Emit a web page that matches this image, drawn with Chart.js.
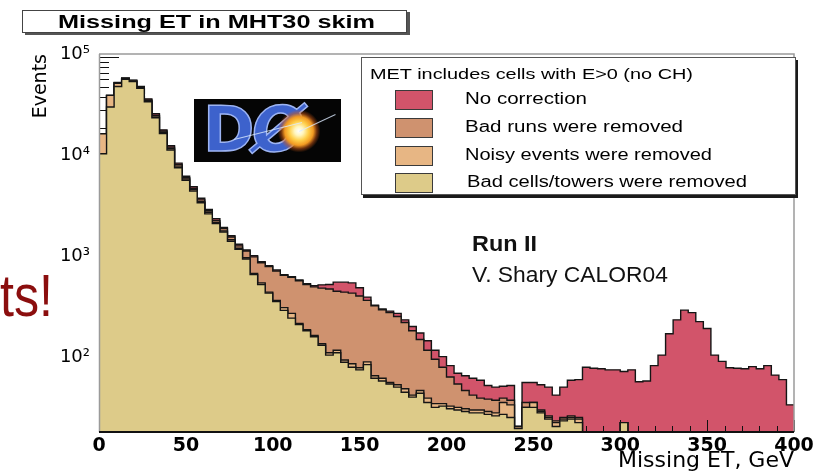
<!DOCTYPE html>
<html>
<head>
<meta charset="utf-8">
<script src="https://cdn.jsdelivr.net/npm/chart.js@4.4.1/dist/chart.umd.min.js"></script>
<style>
  html, body { margin:0; padding:0; background:#ffffff; }
  #stage { position:relative; width:821px; height:471px; overflow:hidden; background:#fff; }
  #chart { position:absolute; left:0; top:0; }
  .txt { position:absolute; white-space:nowrap; line-height:1; font-family:"Liberation Sans", Arial, sans-serif; transform-origin:0 0; }
  #titleBox { position:absolute; left:22px; top:10px; width:383px; height:21px; border:1px solid #444; box-shadow:3px 2px 0 #555; background:#fff; }
  #legendBox { position:absolute; left:361px; top:57px; width:433px; height:136px; border:1px solid #555; box-shadow:2px 3px 0 #1a1a1a; background:#fff; }
  .swatch { position:absolute; width:36px; height:18px; border:1px solid #3a3a3a; }
  #logo { position:absolute; left:194px; top:99px; width:147px; height:63px; background:#050505; overflow:hidden; }
  #logo .dd { position:absolute; left:9px; top:0px; font-family:"DejaVu Sans", sans-serif; font-weight:bold; font-size:62px; line-height:1; color:#3d62cc; -webkit-text-stroke:1.5px #9db4f2; }
  #logo .oo { position:absolute; left:58px; top:0px; font-family:"DejaVu Sans", sans-serif; font-weight:bold; font-style:italic; font-size:62px; line-height:1; color:#3d62cc; -webkit-text-stroke:1.5px #9db4f2; }
  #logo .flare { position:absolute; left:84px; top:11px; width:42px; height:42px; background:radial-gradient(circle at center, #ffffff 0%, #fff6c0 15%, #ffcf4a 32%, #f29a22 48%, rgba(210,90,20,0.5) 60%, rgba(0,0,0,0) 72%); }
  #logo .ray { position:absolute; height:1px; background:rgba(220,235,255,0.8); transform-origin:0 0; }
</style>
</head>
<body>
<div id="stage">
  <canvas id="chart" width="821" height="471"></canvas>
  <div id="titleBox"></div>
  <div id="legendBox"></div>
  <div id="logo"><span class="dd">D</span><span class="oo">Ø</span><div class="flare"></div>
    <div class="ray" style="left:40px;top:40px;width:70px;transform:rotate(-14deg)"></div>
    <div class="ray" style="left:105px;top:32px;width:40px;transform:rotate(-25deg)"></div>
  </div>
</div>
<script>
// ---------------- data ----------------
const X_MIN = 0, X_MAX = 400;           // histogram range, GeV
const Y_MIN = 19.4, Y_MAX = 107000;     // axis range, events
const xTickValues = [0, 50, 100, 150, 200, 250, 300, 350, 400];
const yTickValues = [100, 1000, 10000, 100000];
const yTickLabels = ['10²', '10³', '10⁴', '10⁵'];
const legendTitle = 'MET includes cells with E>0 (no CH)';
const seriesLabels = ['No correction', 'Bad runs were removed', 'Noisy events were removed', 'Bad cells/towers were removed'];
const seriesColors = ['#d2546a', '#cf926f', '#e7b684', '#ddcb89'];

// events per bin (92 equal bins over 0-400 GeV)
const noCorrection = [
  17400,41700,56000,62000,59000,51000,38500,27500,19000,13200,
  8900,6600,5200,4000,3100,2500,2050,1700,1400,1230,
  1080,940,860,780,700,670,620,570,545,555,
  560,590,590,580,520,420,350,320,305,290,
  250,215,185,155,125,108,88,74,70,66,
  63,56,54,55,56,22,60,60,57,54,
  45,54,63,64,85,83,82,80,80,77,
  80,61,62,88,112,182,250,312,295,240,
  205,112,97,84,83,82,86,82,88,71,
  64,36];
const badRunsRemoved = [
  17400,41700,55500,61500,58500,50500,37500,26500,18500,12800,
  8600,6400,5000,3850,3000,2400,2000,1650,1350,1200,
  1050,920,840,760,690,660,610,560,530,515,
  505,480,470,460,430,390,345,315,295,270,
  235,195,160,125,102,85,68,58,50,45,
  42,41,40,42,40,22,38,38,32,28,
  25,27,28,27,0,0,0,0,0,24,
  0,0,0,0,0,0,0,0,0,0,
  0,0,0,0,0,0,0,0,0,0,
  0,0];
const noisyRemoved = [
  17400,41700,55000,61000,58000,50000,37000,26000,18000,12400,
  8300,6200,4850,3700,2900,2300,1900,1550,1280,1030,
  720,580,470,390,330,290,230,200,175,145,
  118,125,100,92,84,96,70,66,60,57,
  52,45,50,42,37,37,35,34,33,32,
  32,31,30,38,36,22,34,38,31,27,
  24,26,27,26,0,0,0,0,0,24,
  0,0,0,0,0,0,0,0,0,0,
  0,0,0,0,0,0,0,0,0,0,
  0,0];
const badCellsRemoved = [
  11000,32000,51000,60000,57000,49000,36000,25000,17500,12000,
  8000,6000,4700,3600,2800,2250,1850,1500,1250,1000,
  700,560,460,380,310,260,225,195,170,140,
  112,118,95,85,80,90,66,62,58,54,
  48,43,47,38,34,35,33,32,31,30,
  30,29,28,29,27,21,34,34,30,26,
  22,25,26,24,0,0,0,0,0,24,
  0,0,0,0,0,0,0,0,0,0,
  0,0,0,0,0,0,0,0,0,0,
  0,0];

// ---------------- chart ----------------
function stepPoints(values) {
  const w = (X_MAX - X_MIN) / values.length;
  const floor = v => (v > 0 ? v : Y_MIN);  // empty bins sit on the axis floor
  const pts = values.map((v, i) => ({ x: X_MIN + i * w, y: floor(v) }));
  pts.push({ x: X_MAX, y: floor(values[values.length - 1]) });
  return pts;
}
const seriesData = [noCorrection, badRunsRemoved, noisyRemoved, badCellsRemoved];
// Chart.js paints the last dataset first, so reverse to put "no correction" at the back
const datasets = seriesData.map((vals, i) => ({
  label: seriesLabels[i],
  data: stepPoints(vals),
  stepped: 'before',
  fill: 'start',
  backgroundColor: seriesColors[i],
  borderColor: '#151515',
  borderWidth: 1.4,
  pointRadius: 0,
  tension: 0
})).reverse();

const axisDecor = {
  id: 'axisDecor',
  afterDatasetDraw(chart, args) {
    if (args.index !== chart.data.datasets.length - 1) return; // after the back-most histogram
    const { ctx, chartArea: a, scales: { x, y } } = chart;
    ctx.save();
    ctx.strokeStyle = '#111';
    ctx.lineWidth = 1;
    ctx.beginPath();
    for (let v = X_MIN; v <= X_MAX; v += 10) {
      const px = Math.round(x.getPixelForValue(v)) + 0.5;
      const len = v % 50 === 0 ? 12 : 6;
      ctx.moveTo(px, a.bottom); ctx.lineTo(px, a.bottom - len);
    }
    for (let d = 1; d <= 5; d++) {
      for (let m = 1; m <= 9; m++) {
        const v = m * Math.pow(10, d);
        if (v < Y_MIN || v > Y_MAX) continue;
        const py = Math.round(y.getPixelForValue(v)) + 0.5;
        const len = m === 1 ? 20 : 10;
        ctx.moveTo(a.left, py); ctx.lineTo(a.left + len, py);
      }
    }
    ctx.stroke();
    ctx.restore();
  },
  afterDatasetsDraw(chart) {
    const { ctx, chartArea: a } = chart;
    ctx.save();
    ctx.strokeStyle = '#9a9a9a';
    ctx.lineWidth = 1.5;
    ctx.beginPath();
    ctx.moveTo(a.left, a.top); ctx.lineTo(a.right, a.top); ctx.lineTo(a.right, a.bottom);
    ctx.moveTo(a.left + 0.5, a.top); ctx.lineTo(a.left + 0.5, a.bottom);
    ctx.stroke();
    ctx.strokeStyle = '#111';
    ctx.lineWidth = 2;
    ctx.beginPath();
    ctx.moveTo(a.left, a.bottom); ctx.lineTo(a.right, a.bottom);
    ctx.stroke();
    ctx.restore();
  }
};

new Chart(document.getElementById('chart').getContext('2d'), {
  type: 'line',
  data: { datasets },
  options: {
    responsive: false,
    animation: false,
    events: [],
    layout: { padding: { top: 54, right: 27, left: 0, bottom: 0 } },
    plugins: { legend: { display: false }, tooltip: { enabled: false }, title: { display: false } },
    elements: { point: { radius: 0 }, line: { tension: 0 } },
    scales: {
      x: {
        type: 'linear', min: X_MIN, max: X_MAX,
        afterFit: s => { s.height = 39; },
        afterBuildTicks: s => { s.ticks = xTickValues.map(v => ({ value: v })); },
        grid: { display: false, drawTicks: false },
        border: { display: false },
        ticks: { padding: 3, autoSkip: false, maxRotation: 0, color: '#000',
                 font: { family: 'DejaVu Sans', size: 19, weight: 'bold' },
                 callback: v => String(v) },
        title: { display: true, text: 'Missing ET, GeV', align: 'end', color: '#000',
                 font: { family: 'DejaVu Sans', size: 22 }, padding: { top: 0, bottom: -3 } }
      },
      y: {
        type: 'logarithmic', min: Y_MIN, max: Y_MAX,
        afterFit: s => { s.width = 99; },
        afterBuildTicks: s => { s.ticks = yTickValues.map(v => ({ value: v })); },
        grid: { display: false, drawTicks: false },
        border: { display: false },
        ticks: { padding: 9, autoSkip: false, color: '#000', labelOffset: -3,
                 font: { family: 'DejaVu Sans', size: 18 },
                 callback: (v, i) => yTickLabels[i] },
        title: { display: true, text: 'Events', align: 'end', color: '#000',
                 font: { family: 'DejaVu Sans', size: 19 }, padding: { top: 30, bottom: 0 } }
      }
    }
  },
  plugins: [axisDecor]
});

// ---------------- HTML texts ----------------
const stage = document.getElementById('stage');
function addText(str, o) {
  const s = document.createElement('div');
  s.className = 'txt';
  s.textContent = str;
  s.style.fontSize = o.size + 'px';
  s.style.fontWeight = o.weight || 'normal';
  s.style.color = o.color || '#000';
  if (o.family) s.style.fontFamily = o.family;
  stage.appendChild(s);
  s.style.top = (o.baseline - 0.8465 * o.size) + 'px';
  const nat = s.getBoundingClientRect().width;
  const k = o.width ? o.width / nat : 1;
  const w = o.width || nat;
  s.style.left = (o.center !== undefined ? o.center - w / 2 : o.left) + 'px';
  s.style.transform = 'scaleX(' + k + ')';
  return s;
}
addText('Missing ET in MHT30 skim', { center: 216, baseline: 28.5, size: 18, weight: 'bold', width: 317 });
addText(legendTitle, { left: 370, baseline: 79, size: 15.5, width: 323 });
const rowBase = [105, 133, 160.5, 188];
const rowTops = [90, 118, 146, 173];
const rowWidths = [122, 218, 247, 280];
seriesLabels.forEach((lab, i) => {
  const sw = document.createElement('div');
  sw.className = 'swatch';
  sw.style.left = '395px';
  sw.style.top = rowTops[i] + 'px';
  sw.style.background = seriesColors[i];
  stage.appendChild(sw);
  addText(lab, { left: i === 3 ? 467 : 465, baseline: rowBase[i], size: 16, width: rowWidths[i] });
});
addText('Run II', { left: 472, baseline: 251.5, size: 22, weight: 'bold', width: 65, color: '#111' });
addText('V. Shary CALOR04', { left: 472, baseline: 283, size: 22, width: 196, color: '#111' });
addText('ts!', { left: 0, baseline: 317, size: 60, width: 53, color: '#8b0e0e' });
</script>
</body>
</html>
